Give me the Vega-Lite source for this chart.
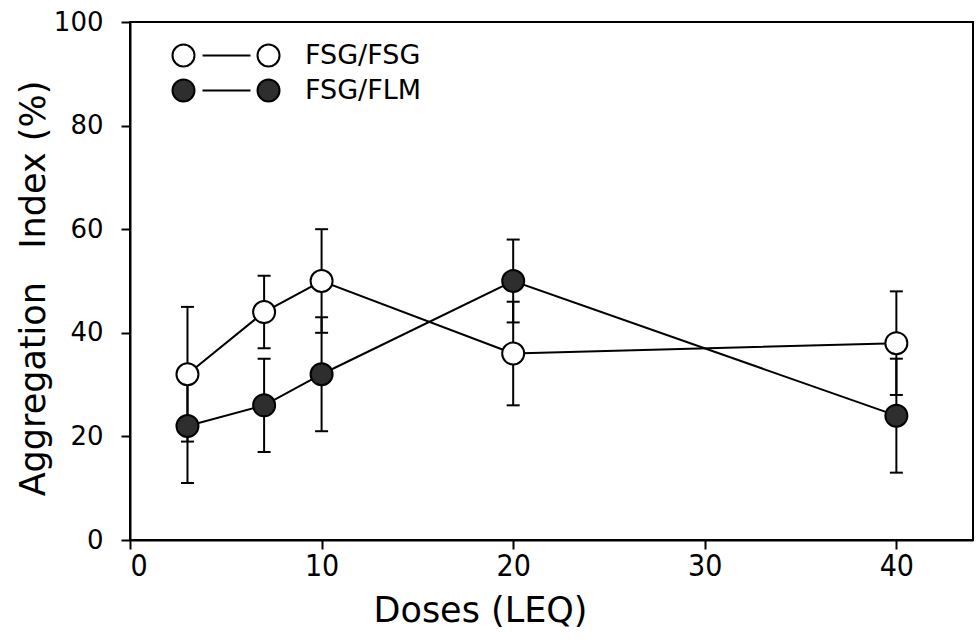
{
  "$schema": "https://vega.github.io/schema/vega-lite/v6.json",
  "width": 843,
  "height": 518,
  "autosize": {"type": "none"},
  "padding": {"left": 130, "top": 22, "right": 5, "bottom": 101},
  "background": "white",
  "config": {
    "view": {"stroke": "black", "strokeWidth": 2},
    "axis": {
      "grid": false,
      "domainColor": "black",
      "domainWidth": 2,
      "tickColor": "black",
      "tickWidth": 2,
      "labelColor": "black",
      "titleColor": "black",
      "titleFontWeight": "normal"
    }
  },
  "data": {
    "values": [
      {"dose": 3, "group": "FSG/FSG", "mean": 32, "lo": 19, "hi": 45},
      {"dose": 7, "group": "FSG/FSG", "mean": 44, "lo": 37, "hi": 51},
      {"dose": 10, "group": "FSG/FSG", "mean": 50, "lo": 40, "hi": 60},
      {"dose": 20, "group": "FSG/FSG", "mean": 36, "lo": 26, "hi": 46},
      {"dose": 40, "group": "FSG/FSG", "mean": 38, "lo": 28, "hi": 48},
      {"dose": 3, "group": "FSG/FLM", "mean": 22, "lo": 11, "hi": 33},
      {"dose": 7, "group": "FSG/FLM", "mean": 26, "lo": 17, "hi": 35},
      {"dose": 10, "group": "FSG/FLM", "mean": 32, "lo": 21, "hi": 43},
      {"dose": 20, "group": "FSG/FLM", "mean": 50, "lo": 42, "hi": 58},
      {"dose": 40, "group": "FSG/FLM", "mean": 24, "lo": 13, "hi": 35}
    ]
  },
  "encoding": {
    "x": {
      "field": "dose",
      "type": "quantitative",
      "scale": {"domain": [0, 44], "nice": false},
      "axis": {
        "values": [0, 10, 20, 30, 40],
        "title": "Doses (LEQ)",
        "labelFont": "DejaVu Sans Condensed",
        "labelFontSize": 30,
        "tickSize": 9,
        "labelPadding": 2,
        "titleFont": "DejaVu Sans",
        "titleFontSize": 35,
        "titleX": 350,
        "titleY": 53,
        "titleAlign": "center",
        "titleBaseline": "top"
      }
    }
  },
  "layer": [
    {
      "mark": {"type": "line", "color": "black", "strokeWidth": 2},
      "encoding": {
        "y": {
          "field": "mean",
          "type": "quantitative",
          "scale": {"domain": [0, 100], "nice": false},
          "axis": {
            "values": [0, 20, 40, 60, 80, 100],
            "title": "Aggregation\u00a0\u00a0\u00a0Index\u00a0(%)",
            "labelFont": "DejaVu Sans",
            "labelFontSize": 26,
            "tickSize": 9,
            "labelPadding": 18,
            "titleFont": "DejaVu Sans",
            "titleFontSize": 35,
            "titleAngle": 270,
            "titleX": -86,
            "titleY": 266,
            "titleAlign": "center",
            "titleBaseline": "alphabetic"
          }
        },
        "detail": {"field": "group"},
        "order": {"field": "dose"}
      }
    },
    {
      "mark": {"type": "rule", "color": "black", "strokeWidth": 2},
      "encoding": {
        "y": {"field": "lo", "type": "quantitative"},
        "y2": {"field": "hi"}
      }
    },
    {
      "mark": {"type": "tick", "orient": "horizontal", "size": 13, "thickness": 2, "color": "black", "opacity": 1},
      "encoding": {"y": {"field": "lo", "type": "quantitative"}}
    },
    {
      "mark": {"type": "tick", "orient": "horizontal", "size": 13, "thickness": 2, "color": "black", "opacity": 1},
      "encoding": {"y": {"field": "hi", "type": "quantitative"}}
    },
    {
      "mark": {"type": "point", "filled": true, "size": 484, "stroke": "black", "strokeWidth": 2, "opacity": 1},
      "encoding": {
        "y": {"field": "mean", "type": "quantitative"},
        "fill": {
          "field": "group",
          "type": "nominal",
          "scale": {"domain": ["FSG/FSG", "FSG/FLM"], "range": ["white", "#2e2e2e"]},
          "legend": {
            "title": null,
            "orient": "none",
            "legendX": 40,
            "legendY": 20,
            "padding": 0,
            "symbolType": "M1,0A1,1 0 1,1 -1,0A1,1 0 1,1 1,0Z M1.73,0L6.09,0 M8.73,0A1,1 0 1,1 6.73,0A1,1 0 1,1 8.73,0Z",
            "symbolSize": 484,
            "symbolStrokeColor": "black",
            "symbolStrokeWidth": 2,
            "symbolOpacity": 1,
            "labelFont": "DejaVu Sans",
            "labelFontSize": 27,
            "labelColor": "black",
            "labelOffset": 108,
            "rowPadding": 4,
            "labelLimit": 300
          }
        }
      }
    }
  ]
}
